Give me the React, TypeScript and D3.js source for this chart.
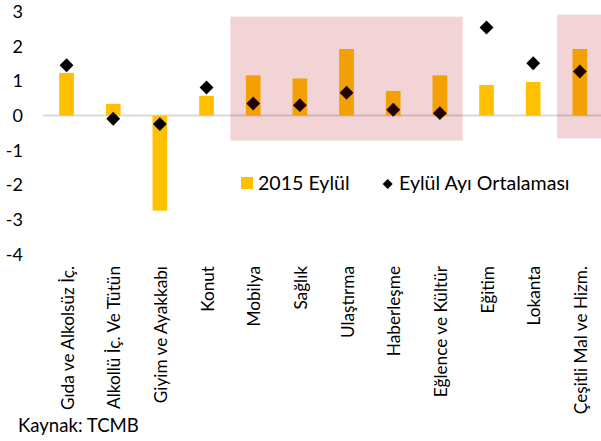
import React from "react";
import * as d3 from "d3";

const categories = [
  "Gıda ve Alkolsüz İç.",
  "Alkollü İç. Ve Tütün",
  "Giyim ve Ayakkabı",
  "Konut",
  "Mobilya",
  "Sağlık",
  "Ulaştırma",
  "Haberleşme",
  "Eğlence ve Kültür",
  "Eğitim",
  "Lokanta",
  "Çeşitli Mal ve Hizm.",
];
const eylul2015 = [1.23, 0.34, -2.74, 0.57, 1.16, 1.07, 1.92, 0.71, 1.16, 0.88, 0.97, 1.92];
const eylulOrtalama = [1.45, -0.09, -0.245, 0.81, 0.35, 0.3, 0.66, 0.17, 0.07, 2.54, 1.51, 1.27];
const yTicks = [3, 2, 1, 0, -1, -2, -3, -4];
const highlightGroups = [
  { from: "Mobilya", to: "Eğlence ve Kültür", top: 2.85, bottom: -0.72 },
  { from: "Çeşitli Mal ve Hizm.", to: "Çeşitli Mal ve Hizm.", top: 2.91, bottom: -0.66 },
];
const legendLabels = ["2015 Eylül", "Eylül Ayı Ortalaması"];
const sourceText = "Kaynak: TCMB";

const W = 601;
const H = 441;
const FONT = "Lato, 'Open Sans', sans-serif";

export default function App() {
  const x = d3.scaleBand<string>().domain(categories).range([43.2, 603.2]).paddingInner(0.685).paddingOuter(0.3425);
  const y = d3.scaleLinear().domain([-4, 3]).range([254.4, 11.5]);
  const bw = x.bandwidth();
  const cx = (c: string) => (x(c) as number) + bw / 2;
  const step = x.step();
  const diamond = d3.symbol(d3.symbolSquare, 96)();
  const legendDiamond = d3.symbol(d3.symbolSquare, 50)();

  return (
    <svg width={W} height={H} style={{ position: "absolute", left: 0, top: 0, background: "#fff" }} fontFamily={FONT}>
      {/* y tick labels */}
      {yTicks.map((t) => (
        <text key={t} x={23} y={y(t)} dy="0.36em" textAnchor="end" fontSize={18} fill="#000">
          {t}
        </text>
      ))}
      {/* zero line */}
      <line x1={43} x2={W} y1={y(0)} y2={y(0)} stroke="#d9d9d9" strokeWidth={2} />
      {/* bars */}
      {categories.map((c, i) => {
        const v = eylul2015[i];
        return (
          <rect
            key={c}
            x={x(c)}
            width={bw}
            y={Math.min(y(v), y(0))}
            height={Math.abs(y(v) - y(0))}
            fill="#FFC000"
          />
        );
      })}
      {/* diamonds */}
      {categories.map((c, i) => (
        <path key={c} d={diamond as string} transform={`translate(${cx(c)},${y(eylulOrtalama[i])}) rotate(45)`} fill="#000" />
      ))}
      {/* highlight rectangles */}
      {highlightGroups.map((g, i) => {
        const x0 = cx(g.from) - step / 2 + 0.5;
        const x1 = Math.min(cx(g.to) + step / 2 - 0.5, W);
        return (
          <rect
            key={i}
            x={x0}
            width={x1 - x0}
            y={y(g.top)}
            height={y(g.bottom) - y(g.top)}
            fill="rgb(180,9,20)"
            fillOpacity={0.175}
          />
        );
      })}
      {/* category labels */}
      {categories.map((c) => (
        <text
          key={c}
          transform={`translate(${cx(c) + 1},266) rotate(-90)`}
          textAnchor="end"
          dy="0.36em"
          fontSize={17.2}
          fill="#000"
        >
          {c}
        </text>
      ))}
      {/* legend */}
      <rect x={241} y={177} width={12} height={12} fill="#FFC000" />
      <text x={258} y={189.5} fontSize={19.6} fill="#000">
        {legendLabels[0]}
      </text>
      <path d={legendDiamond as string} transform={`translate(387.7,184) rotate(45)`} fill="#000" />
      <text x={399} y={189.5} fontSize={19.6} fill="#000">
        {legendLabels[1]}
      </text>
      {/* source */}
      <text x={18} y={432} fontSize={18.6} fill="#000">
        {sourceText}
      </text>
    </svg>
  );
}
